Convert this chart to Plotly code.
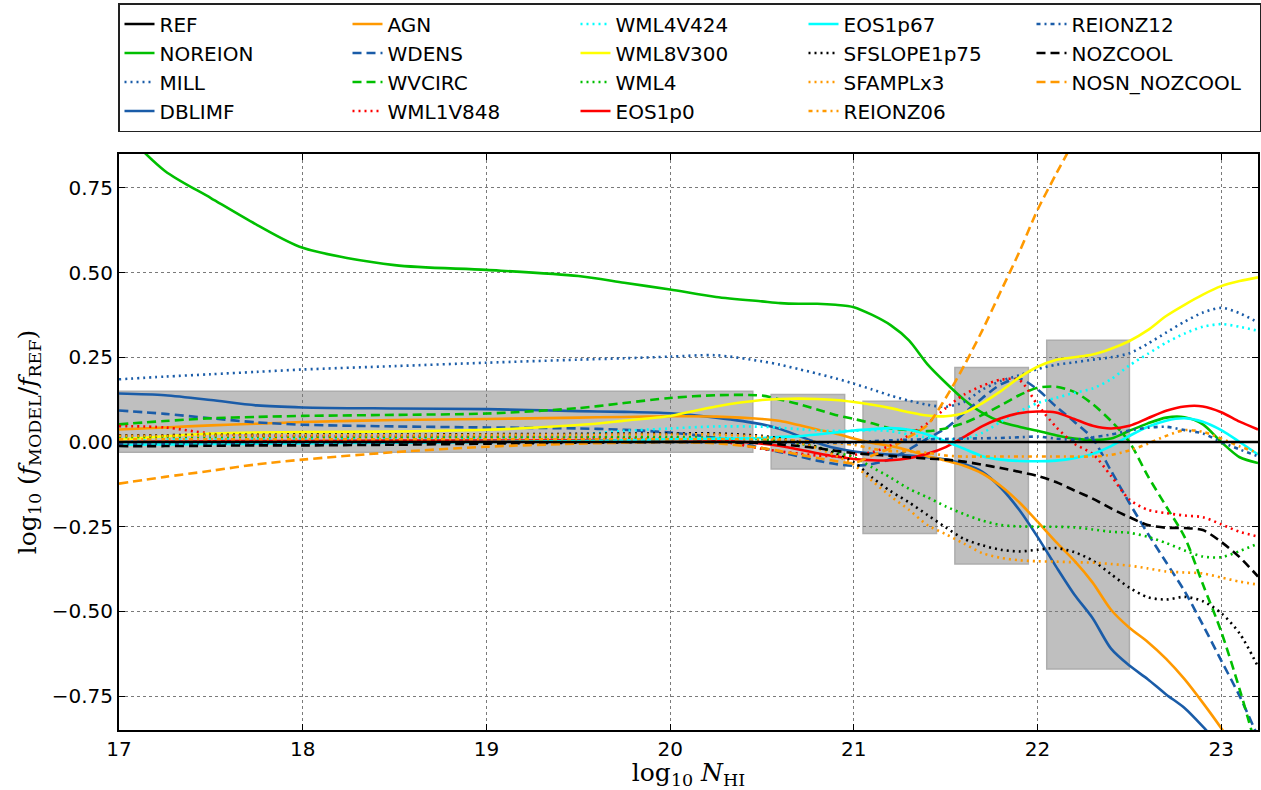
import plotly.graph_objects as go

# ---------------- data ----------------
log_nhi = [17.0, 17.25, 17.5, 17.75, 18.0, 18.5, 19.0, 19.5, 19.75, 20.0, 20.25, 20.5,
           20.6, 20.7, 20.8, 20.9, 21.0, 21.1, 21.2, 21.3, 21.4, 21.5, 21.6, 21.7, 21.8,
           21.9, 22.0, 22.1, 22.2, 22.3, 22.4, 22.5, 22.6, 22.7, 22.8, 22.9, 23.0, 23.1, 23.2]

REF = [0.0] * 39
NOREION = [0.93, 0.80, 0.72, 0.641, 0.573, 0.522, 0.508, 0.49, 0.47, 0.45, 0.428, 0.415,
           0.41, 0.408, 0.408, 0.405, 0.398, 0.375, 0.345, 0.30, 0.23, 0.175, 0.125, 0.086, 0.06,
           0.045, 0.033, 0.02, 0.01, 0.006, 0.01, 0.033, 0.055, 0.072, 0.073, 0.052, 0.0, -0.045, -0.062]
MILL = [0.185, 0.193, 0.20, 0.207, 0.214, 0.224, 0.234, 0.243, 0.247, 0.252, 0.256, 0.238,
        0.228, 0.215, 0.202, 0.188, 0.172, 0.155, 0.137, 0.122, 0.11, 0.104, 0.118, 0.155, 0.18,
        0.197, 0.215, 0.228, 0.235, 0.243, 0.25, 0.262, 0.29, 0.323, 0.355, 0.382, 0.396, 0.38, 0.353]
DBLIMF = [0.143, 0.138, 0.124, 0.108, 0.102, 0.099, 0.097, 0.091, 0.089, 0.085, 0.072, 0.052,
          0.038, 0.018, -0.002, -0.018, -0.028, -0.034, -0.037, -0.04, -0.045, -0.052, -0.065, -0.088, -0.135,
          -0.2, -0.28, -0.367, -0.45, -0.52, -0.61, -0.66, -0.70, -0.745, -0.785, -0.84, -0.9, -0.96, -1.0]
AGN = [0.037, 0.043, 0.049, 0.054, 0.059, 0.065, 0.068, 0.072, 0.074, 0.076, 0.075, 0.068,
       0.062, 0.05, 0.037, 0.025, 0.01, -0.003, -0.012, -0.025, -0.042, -0.055, -0.07, -0.093, -0.13,
       -0.178, -0.235, -0.295, -0.35, -0.415, -0.495, -0.548, -0.59, -0.64, -0.70, -0.77, -0.845, -0.93, -1.0]
WDENS = [0.093, 0.083, 0.07, 0.058, 0.051, 0.046, 0.043, 0.04, 0.036, 0.028, 0.012, -0.018,
         -0.03, -0.042, -0.055, -0.065, -0.07, -0.065, -0.05, -0.022, 0.01, 0.04, 0.085, 0.13, 0.17,
         0.187, 0.155, 0.105, 0.06, 0.01, -0.085, -0.18, -0.27, -0.355, -0.44, -0.54, -0.645, -0.75, -0.87]
WVCIRC = [0.052, 0.062, 0.07, 0.074, 0.077, 0.08, 0.084, 0.10, 0.115, 0.13, 0.138, 0.137,
          0.125, 0.112, 0.096, 0.08, 0.068, 0.055, 0.04, 0.035, 0.032, 0.04, 0.056, 0.08, 0.108,
          0.138, 0.16, 0.163, 0.148, 0.112, 0.062, 0.0, -0.10, -0.19, -0.28, -0.42, -0.56, -0.73, -0.92]
WML1V848 = [0.047, 0.043, 0.025, 0.019, 0.017, 0.016, 0.015, 0.014, 0.012, 0.01, 0.004, -0.02,
            -0.028, -0.034, -0.04, -0.042, -0.038, -0.03, -0.01, 0.02, 0.055, 0.10, 0.14, 0.166, 0.184,
            0.183, 0.11, 0.045, -0.005, -0.035, -0.10, -0.17, -0.20, -0.21, -0.217, -0.222, -0.243, -0.265, -0.279]
WML4V424 = [0.005, 0.006, 0.007, 0.008, 0.009, 0.01, 0.012, 0.022, 0.033, 0.04, 0.046, 0.045,
            0.042, 0.038, 0.034, 0.033, 0.033, 0.035, 0.032, 0.022, 0.013, 0.008, 0.01, 0.027, 0.06,
            0.09, 0.115, 0.13, 0.145, 0.158, 0.185, 0.226, 0.26, 0.293, 0.32, 0.34, 0.348, 0.34, 0.328]
WML8V300 = [0.007, 0.017, 0.025, 0.028, 0.029, 0.031, 0.036, 0.05, 0.063, 0.077, 0.105, 0.124,
            0.127, 0.128, 0.127, 0.124, 0.118, 0.11, 0.10, 0.088, 0.078, 0.076, 0.086, 0.115, 0.15,
            0.19, 0.222, 0.242, 0.25, 0.258, 0.275, 0.298, 0.33, 0.372, 0.405, 0.435, 0.46, 0.475, 0.486]
WML4 = [0.015, 0.015, 0.015, 0.015, 0.015, 0.015, 0.015, 0.015, 0.015, 0.015, 0.012, 0.008,
        0.003, -0.005, -0.015, -0.03, -0.045, -0.075, -0.105, -0.138, -0.163, -0.19, -0.213, -0.232, -0.245,
        -0.249, -0.25, -0.25, -0.252, -0.258, -0.265, -0.268, -0.28, -0.298, -0.32, -0.338, -0.34, -0.322, -0.30]
EOS1p0 = [0.0, 0.001, 0.002, 0.003, 0.003, 0.004, 0.004, 0.005, 0.005, 0.005, 0.005, -0.005,
          -0.012, -0.022, -0.033, -0.043, -0.05, -0.054, -0.054, -0.048, -0.035, -0.015, 0.015, 0.047, 0.07,
          0.085, 0.09, 0.087, 0.068, 0.048, 0.04, 0.048, 0.07, 0.092, 0.105, 0.105, 0.088, 0.06, 0.037]
EOS1p67 = [-0.008, -0.007, -0.006, -0.005, -0.004, -0.002, 0.0, 0.003, 0.005, 0.008, 0.01, 0.012,
           0.015, 0.017, 0.022, 0.028, 0.034, 0.038, 0.041, 0.036, 0.022, 0.002, -0.02, -0.042, -0.052,
           -0.056, -0.057, -0.055, -0.048, -0.035, -0.012, 0.018, 0.045, 0.063, 0.07, 0.06, 0.035, 0.0, -0.037]
SFSLOPE1p75 = [0.02, 0.02, 0.021, 0.021, 0.022, 0.022, 0.023, 0.024, 0.025, 0.025, 0.025, 0.018,
               0.01, 0.0, -0.015, -0.035, -0.06, -0.105, -0.145, -0.178, -0.215, -0.252, -0.286, -0.305, -0.318,
               -0.323, -0.318, -0.313, -0.325, -0.35, -0.39, -0.43, -0.458, -0.465, -0.457, -0.47, -0.505, -0.565, -0.663]
SFAMPLx3 = [0.018, 0.018, 0.019, 0.019, 0.02, 0.02, 0.021, 0.021, 0.022, 0.022, 0.022, 0.015,
            0.008, -0.002, -0.018, -0.04, -0.067, -0.115, -0.16, -0.20, -0.245, -0.272, -0.30, -0.328, -0.342,
            -0.349, -0.352, -0.353, -0.355, -0.356, -0.36, -0.365, -0.373, -0.382, -0.385, -0.388, -0.40, -0.412, -0.421]
REIONZ06 = [0.008, 0.008, 0.008, 0.008, 0.008, 0.008, 0.008, 0.008, 0.008, 0.008, 0.008, 0.007,
            0.006, 0.004, 0.0, -0.004, -0.008, -0.02, -0.027, -0.027, -0.032, -0.04, -0.043, -0.043, -0.043,
            -0.043, -0.043, -0.043, -0.043, -0.043, -0.038, -0.025, -0.005, 0.018, 0.035, 0.03, 0.01, -0.013, -0.032]
REIONZ12 = [-0.005, -0.005, -0.004, -0.004, -0.003, -0.003, -0.002, -0.001, 0.0, 0.0, 0.0, 0.0,
            -0.002, -0.002, -0.002, -0.002, -0.002, 0.002, 0.005, 0.007, 0.008, 0.009, 0.01, 0.011, 0.012,
            0.014, 0.016, 0.01, 0.007, 0.014, 0.022, 0.034, 0.042, 0.045, 0.035, 0.025, 0.0, -0.022, -0.042]
NOZCOOL = [-0.012, -0.012, -0.011, -0.01, -0.01, -0.008, -0.005, -0.002, -0.001, 0.0, 0.0, -0.003,
           -0.007, -0.012, -0.018, -0.026, -0.033, -0.037, -0.041, -0.045, -0.049, -0.052, -0.058, -0.067, -0.077,
           -0.088, -0.10, -0.118, -0.143, -0.167, -0.196, -0.222, -0.245, -0.253, -0.254, -0.26, -0.295, -0.34, -0.397]
NOSN_NOZCOOL = [-0.123, -0.103, -0.085, -0.066, -0.052, -0.03, -0.014, -0.005, -0.002, 0.0, -0.004, -0.018,
                -0.027, -0.037, -0.047, -0.056, -0.062, -0.04, -0.018, 0.015, 0.05, 0.13, 0.225, 0.33, 0.445,
                0.56, 0.685, 0.79, 0.89, None, None, None, None, None, None, None, None, None, None]

# observational ranges (grey boxes)
box_x0 = [17.0, 20.55, 21.05, 21.55, 22.05]
box_x1 = [20.45, 20.95, 21.45, 21.95, 22.5]
box_lo = [-0.03, -0.08, -0.27, -0.36, -0.67]
box_hi = [0.15, 0.14, 0.12, 0.22, 0.30]

BLUE = "#1a5ca8"
GREEN = "#00bf00"
ORANGE = "#ff9900"
DOT = "2px,4px"
DASH = "9px,5px"
DASHDOT = "4px,4px,2px,4px"

series = [
    ("REF", REF, "black", "solid"),
    ("NOREION", NOREION, GREEN, "solid"),
    ("MILL", MILL, BLUE, DOT),
    ("DBLIMF", DBLIMF, BLUE, "solid"),
    ("AGN", AGN, ORANGE, "solid"),
    ("WDENS", WDENS, BLUE, DASH),
    ("WVCIRC", WVCIRC, GREEN, DASH),
    ("WML1V848", WML1V848, "red", DOT),
    ("WML4V424", WML4V424, "cyan", DOT),
    ("WML8V300", WML8V300, "yellow", "solid"),
    ("WML4", WML4, GREEN, DOT),
    ("EOS1p0", EOS1p0, "red", "solid"),
    ("EOS1p67", EOS1p67, "cyan", "solid"),
    ("SFSLOPE1p75", SFSLOPE1p75, "black", DOT),
    ("SFAMPLx3", SFAMPLx3, ORANGE, DOT),
    ("REIONZ06", REIONZ06, ORANGE, DASHDOT),
    ("REIONZ12", REIONZ12, BLUE, DASHDOT),
    ("NOZCOOL", NOZCOOL, "black", DASH),
    ("NOSN_NOZCOOL", NOSN_NOZCOOL, ORANGE, DASH),
]

fig = go.Figure()

# legend order: column-major in 5 columns x 4 rows -> row-major rank
nrows, ncols = 4, 5
traces = []
for i, (name, vals, col, dash) in enumerate(series):
    c, r = i // nrows, i % nrows
    rank = r * ncols + c
    traces.append(go.Scatter(
        x=log_nhi, y=vals, name=name, mode="lines",
        line=dict(color=col, width=2.6, dash=dash, shape="spline", smoothing=0.8),
        legendrank=rank + 1, connectgaps=False, hoverinfo="skip"))
# draw REF last so it sits on top
for t in traces[1:]:
    fig.add_trace(t)
fig.add_trace(traces[0])

for x0, x1, lo, hi in zip(box_x0, box_x1, box_lo, box_hi):
    fig.add_shape(type="rect", xref="x", yref="y", x0=x0, x1=x1, y0=lo, y1=hi,
                  fillcolor="#bfbfbf", line=dict(color="#adadad", width=1.5), layer="below")

axis_common = dict(showline=True, linecolor="black", linewidth=2, mirror="ticks",
                   ticks="inside", ticklen=6, tickwidth=1, tickcolor="black",
                   showgrid=True, gridcolor="#7a7a7a", griddash="dot", gridwidth=1,
                   zeroline=False, tickfont=dict(family="DejaVu Sans", size=20, color="black"))

fig.update_xaxes(range=[17, 23.2], tickvals=[17, 18, 19, 20, 21, 22, 23], **axis_common,
                 title=dict(text="log<sub>10</sub> <i>N</i><sub>HI</sub>",
                            font=dict(family="DejaVu Serif", size=25, color="black"), standoff=8))
fig.update_yaxes(range=[-0.85, 0.85], tickvals=[-0.75, -0.5, -0.25, 0, 0.25, 0.5, 0.75],
                 tickformat=".2f", **axis_common,
                 title=dict(text="log<sub>10</sub> (<i>f</i><sub>MODEL</sub>/<i>f</i><sub>REF</sub>)",
                            font=dict(family="DejaVu Serif", size=25, color="black"), standoff=8))

fig.update_layout(
    width=1261, height=790,
    margin=dict(l=119, r=1, t=154, b=60, pad=0),
    paper_bgcolor="white", plot_bgcolor="white",
    showlegend=True,
    legend=dict(orientation="h", x=0, xanchor="left", y=1 + 151 / 576, yanchor="top",
                entrywidth=183, entrywidthmode="pixels", itemwidth=30,
                font=dict(family="DejaVu Sans", size=20, color="black"),
                bordercolor="#222222", borderwidth=1.5, bgcolor="white", tracegroupgap=0),
)

fig.write_html("out.html")
